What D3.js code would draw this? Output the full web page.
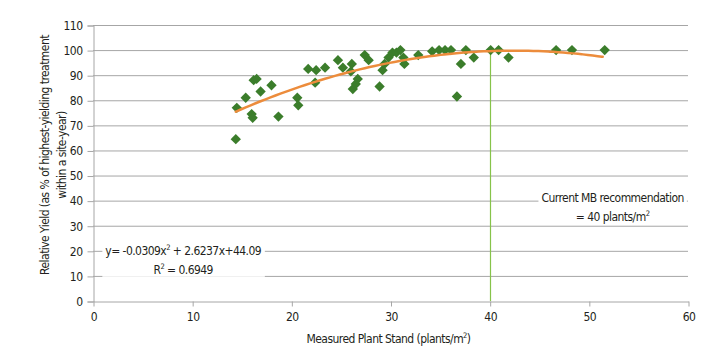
<!DOCTYPE html>
<html>
<head>
<meta charset="utf-8">
<script src="https://cdn.jsdelivr.net/npm/d3@7"></script>
<style>
body { margin: 0; background: #fff; }
text { font-family: "Liberation Sans Narrow", "DejaVu Sans Condensed", sans-serif; fill: #231f20; letter-spacing: -0.55px; }
</style>
</head>
<body>
<div class="graph"></div>
<script>
// measured plant stand (plants/m2) and relative yield (%)
var standX = [14.4, 14.5, 15.4, 16.0, 16.1, 16.2, 16.5, 16.9, 18.0, 18.7,
    20.6, 20.7, 21.7, 22.4, 22.5, 23.4, 24.7, 25.2, 26.0, 26.1,
    26.2, 26.5, 26.7, 27.4, 27.8, 28.9, 29.2, 29.4, 29.8, 30.2,
    30.6, 31.0, 31.3, 31.4, 32.8, 34.2, 34.9, 35.5, 36.1, 36.7,
    37.1, 37.6, 38.4, 40.1, 40.9, 41.9, 46.7, 48.3, 51.6];
var yieldY = [64.5, 77, 81, 74.5, 73, 88, 88.5, 83.5, 86, 73.5,
    81, 78, 92.5, 87, 92, 93, 96, 93, 91.5, 94.5,
    84.5, 86.5, 88.5, 98, 96, 85.5, 92, 94.5, 97, 99,
    99, 100, 97, 94.5, 98, 99.5, 100, 100, 100, 81.5,
    94.5, 100, 97, 100, 100, 97, 100, 100, 100];
var xTicks = [0, 10, 20, 30, 40, 50, 60];
var yTicks = [0, 10, 20, 30, 40, 50, 60, 70, 80, 90, 100, 110];
var fitCoef = [-0.0309, 2.6237, 44.09];
var recommended = 40;

var svgWidth = 721, svgHeight = 363;
var margin = {top: 25, right: 33, bottom: 62, left: 93};
var width = svgWidth - margin.left - margin.right;
var height = svgHeight - margin.top - margin.bottom;
var gridColor = "#a6a6a6";
var fontSize = "12px";

var svg = d3.select("div.graph").append("svg")
    .attr("width", svgWidth)
    .attr("height", svgHeight);

var g = svg.append("g")
    .attr("transform", "translate(" + margin.left + "," + margin.top + ")");

var x = d3.scaleLinear().domain([0, 60]).range([0, width]);
var y = d3.scaleLinear().domain([0, 110]).range([height, 0]);

// horizontal grid
g.append("g")
    .selectAll("line")
    .data(yTicks.slice(1))
    .enter().append("line")
    .attr("x1", 0).attr("x2", width)
    .attr("y1", function (d) { return y(d) + 0.5; })
    .attr("y2", function (d) { return y(d) + 0.5; })
    .attr("stroke", gridColor);

var yAxis = g.append("g")
    .attr("transform", "translate(0.5,0.5)")
    .call(d3.axisLeft(y).tickValues(yTicks).tickSize(6).tickPadding(5));
yAxis.selectAll("path, line").attr("stroke", gridColor);
yAxis.selectAll("text").style("font-size", fontSize).attr("fill", "#231f20");

var xAxis = g.append("g")
    .attr("transform", "translate(0.5," + (height + 0.5) + ")")
    .call(d3.axisBottom(x).tickValues(xTicks).tickSize(5).tickPadding(6).tickSizeOuter(0));
xAxis.selectAll("path, line").attr("stroke", gridColor);
xAxis.selectAll("text").style("font-size", fontSize).attr("fill", "#231f20");

// recommendation line
g.append("line")
    .attr("x1", Math.round(x(recommended)) + 0.5)
    .attr("x2", Math.round(x(recommended)) + 0.5)
    .attr("y1", y(100))
    .attr("y2", height)
    .attr("stroke", "#86c34a")
    .attr("stroke-width", 1.2);

// points
var points = standX.map(function (d, i) { return {x: d, y: yieldY[i]}; });
g.append("g")
    .selectAll("path")
    .data(points)
    .enter().append("path")
    .attr("transform", function (d) { return "translate(" + x(d.x) + "," + y(d.y) + ")"; })
    .attr("d", d3.symbol().type(d3.symbolDiamond2).size(68))
    .attr("fill", "#3b7d2b");

// fitted polynomial
var fitX = d3.range(d3.min(standX), d3.max(standX) + 0.01, 0.5);
var line = d3.line()
    .x(function (d) { return x(d); })
    .y(function (d) { return y(fitCoef[0] * d * d + fitCoef[1] * d + fitCoef[2]); })
    .curve(d3.curveBasis);
g.append("path")
    .datum(fitX)
    .attr("fill", "none")
    .attr("stroke", "#ec8c3c")
    .attr("stroke-width", 2.5)
    .attr("stroke-linecap", "round")
    .attr("d", line);

// annotations with white backing
function label(cx, cy, lines) {
    var t = g.append("g");
    var bg = t.append("rect").attr("fill", "#fff");
    var txt = t.append("text")
        .attr("text-anchor", "middle")
        .style("font-size", fontSize);
    lines.forEach(function (l, i) {
        var ts = txt.append("tspan").attr("x", cx).attr("y", cy + i * 19);
        l.forEach(function (p) {
            var s = ts.append("tspan").text(p[0]);
            if (p[1]) s.attr("dy", "-5").style("font-size", "7.5px");
            if (p[2]) s.attr("dy", "5");
        });
    });
    var b = txt.node().getBBox();
    bg.attr("x", b.x - 3).attr("y", b.y).attr("width", b.width + 6).attr("height", b.height);
}

label(x(9.1), y(20) + 4, [
    [["y= -0.0309x"], ["2", true], [" + 2.6237x+44.09", false, true]],
    [["R"], ["2", true], [" = 0.6949", false, true]]
]);
label(x(52.4), y(40) + 1, [
    [["Current MB recommendation"]],
    [["= 40 plants/m"], ["2", true]]
]);

// axis titles
svg.append("text")
    .attr("transform", "translate(" + 49 + "," + (margin.top + height / 2 - 8) + ") rotate(-90)")
    .attr("text-anchor", "middle")
    .style("font-size", fontSize)
    .text("Relative Yield (as % of highest-yielding treatment");
svg.append("text")
    .attr("transform", "translate(" + 66 + "," + (margin.top + height / 2 - 8) + ") rotate(-90)")
    .attr("text-anchor", "middle")
    .style("font-size", fontSize)
    .text("within a site-year)");

var xt = svg.append("text")
    .attr("x", margin.left + x(30) - 2)
    .attr("y", 343)
    .attr("text-anchor", "middle")
    .style("font-size", fontSize);
xt.append("tspan").text("Measured Plant Stand (plants/m");
xt.append("tspan").text("2").attr("dy", "-5").style("font-size", "7.5px");
xt.append("tspan").text(")").attr("dy", "5");
</script>
</body>
</html>
